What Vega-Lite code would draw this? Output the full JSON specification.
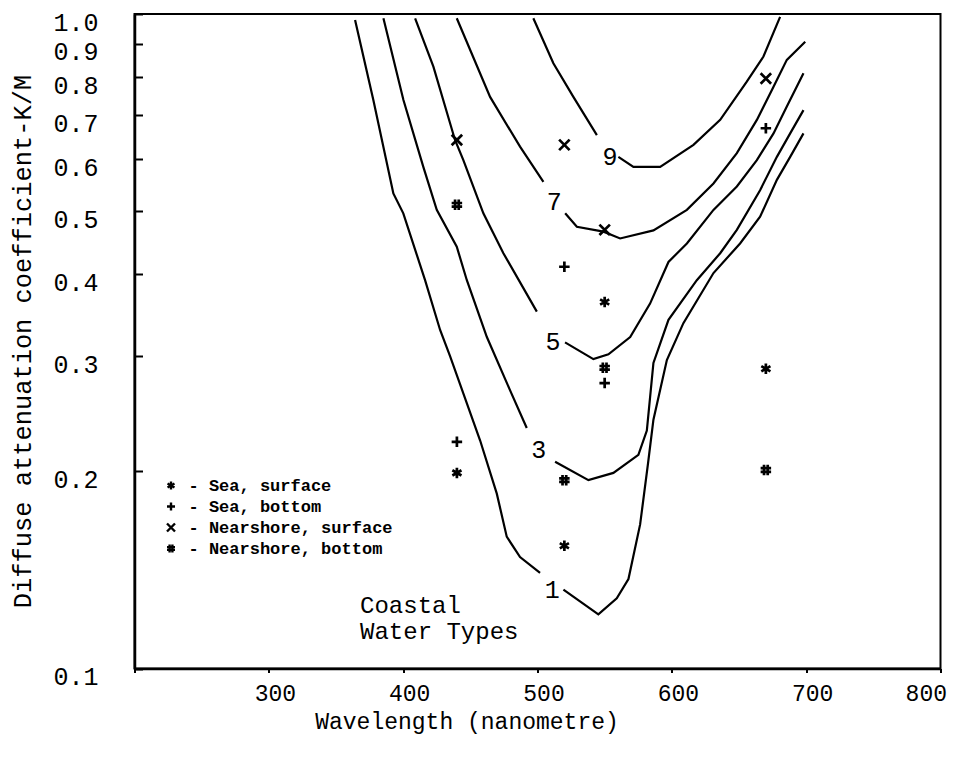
{
  "$schema": "https://vega.github.io/schema/vega-lite/v6.json",
  "width": 806,
  "height": 654.5,
  "autosize": "none",
  "padding": {"left": 134.5, "top": 14, "right": 26.5, "bottom": 88.5},
  "background": "white",
  "config": {
    "view": {"stroke": "black", "strokeWidth": 2},
    "font": "Liberation Mono"
  },
  "datasets": {
    "curves": [
      {"seg": "9L", "wl": 496.9, "k": 0.985}, {"seg": "9L", "wl": 511.8, "k": 0.841}, {"seg": "9L", "wl": 526.7, "k": 0.747}, {"seg": "9L", "wl": 544.2, "k": 0.653},
      {"seg": "9R", "wl": 560.2, "k": 0.605}, {"seg": "9R", "wl": 571.4, "k": 0.584}, {"seg": "9R", "wl": 591.3, "k": 0.584}, {"seg": "9R", "wl": 616.1, "k": 0.631}, {"seg": "9R", "wl": 636.0, "k": 0.689}, {"seg": "9R", "wl": 655.8, "k": 0.788}, {"seg": "9R", "wl": 668.2, "k": 0.861}, {"seg": "9R", "wl": 680.6, "k": 0.99},
      {"seg": "7L", "wl": 439.9, "k": 0.985}, {"seg": "7L", "wl": 464.7, "k": 0.747}, {"seg": "7L", "wl": 487.0, "k": 0.627}, {"seg": "7L", "wl": 504.4, "k": 0.554},
      {"seg": "7R", "wl": 520.6, "k": 0.496}, {"seg": "7R", "wl": 529.3, "k": 0.473}, {"seg": "7R", "wl": 549.1, "k": 0.465}, {"seg": "7R", "wl": 561.5, "k": 0.454}, {"seg": "7R", "wl": 586.3, "k": 0.467}, {"seg": "7R", "wl": 611.2, "k": 0.502}, {"seg": "7R", "wl": 631.0, "k": 0.551}, {"seg": "7R", "wl": 648.4, "k": 0.613}, {"seg": "7R", "wl": 663.3, "k": 0.689}, {"seg": "7R", "wl": 675.7, "k": 0.774}, {"seg": "7R", "wl": 685.6, "k": 0.851}, {"seg": "7R", "wl": 699.3, "k": 0.907},
      {"seg": "5L", "wl": 408.9, "k": 0.985}, {"seg": "5L", "wl": 422.5, "k": 0.831}, {"seg": "5L", "wl": 438.6, "k": 0.642}, {"seg": "5L", "wl": 444.8, "k": 0.598}, {"seg": "5L", "wl": 459.7, "k": 0.496}, {"seg": "5L", "wl": 474.6, "k": 0.431}, {"seg": "5L", "wl": 499.5, "k": 0.351},
      {"seg": "5R", "wl": 520.5, "k": 0.315}, {"seg": "5R", "wl": 541.6, "k": 0.297}, {"seg": "5R", "wl": 552.8, "k": 0.302}, {"seg": "5R", "wl": 569.0, "k": 0.321}, {"seg": "5R", "wl": 583.8, "k": 0.361}, {"seg": "5R", "wl": 597.5, "k": 0.418}, {"seg": "5R", "wl": 611.2, "k": 0.446}, {"seg": "5R", "wl": 631.0, "k": 0.502}, {"seg": "5R", "wl": 648.4, "k": 0.545}, {"seg": "5R", "wl": 663.3, "k": 0.598}, {"seg": "5R", "wl": 675.7, "k": 0.657}, {"seg": "5R", "wl": 685.6, "k": 0.722}, {"seg": "5R", "wl": 698.0, "k": 0.812},
      {"seg": "3L", "wl": 385.3, "k": 0.985}, {"seg": "3L", "wl": 400.2, "k": 0.739}, {"seg": "3L", "wl": 415.0, "k": 0.584}, {"seg": "3L", "wl": 425.0, "k": 0.502}, {"seg": "3L", "wl": 439.9, "k": 0.441}, {"seg": "3L", "wl": 447.4, "k": 0.392}, {"seg": "3L", "wl": 462.3, "k": 0.321}, {"seg": "3L", "wl": 479.6, "k": 0.266}, {"seg": "3L", "wl": 492.0, "k": 0.233},
      {"seg": "3R", "wl": 513.1, "k": 0.207}, {"seg": "3R", "wl": 537.9, "k": 0.194}, {"seg": "3R", "wl": 556.5, "k": 0.199}, {"seg": "3R", "wl": 575.1, "k": 0.212}, {"seg": "3R", "wl": 581.4, "k": 0.231}, {"seg": "3R", "wl": 586.3, "k": 0.293}, {"seg": "3R", "wl": 597.5, "k": 0.341}, {"seg": "3R", "wl": 618.6, "k": 0.392}, {"seg": "3R", "wl": 636.0, "k": 0.431}, {"seg": "3R", "wl": 648.4, "k": 0.468}, {"seg": "3R", "wl": 665.7, "k": 0.538}, {"seg": "3R", "wl": 678.2, "k": 0.605}, {"seg": "3R", "wl": 688.1, "k": 0.657}, {"seg": "3R", "wl": 698.0, "k": 0.713},
      {"seg": "1L", "wl": 364.2, "k": 0.979}, {"seg": "1L", "wl": 377.8, "k": 0.739}, {"seg": "1L", "wl": 392.7, "k": 0.532}, {"seg": "1L", "wl": 400.1, "k": 0.496}, {"seg": "1L", "wl": 416.3, "k": 0.392}, {"seg": "1L", "wl": 427.5, "k": 0.329}, {"seg": "1L", "wl": 434.9, "k": 0.300}, {"seg": "1L", "wl": 457.3, "k": 0.223}, {"seg": "1L", "wl": 469.7, "k": 0.185}, {"seg": "1L", "wl": 477.1, "k": 0.159}, {"seg": "1L", "wl": 487.0, "k": 0.148}, {"seg": "1L", "wl": 501.9, "k": 0.140},
      {"seg": "1R", "wl": 519.3, "k": 0.132}, {"seg": "1R", "wl": 545.3, "k": 0.121}, {"seg": "1R", "wl": 559.0, "k": 0.128}, {"seg": "1R", "wl": 567.7, "k": 0.137}, {"seg": "1R", "wl": 576.4, "k": 0.166}, {"seg": "1R", "wl": 582.3, "k": 0.206}, {"seg": "1R", "wl": 586.3, "k": 0.240}, {"seg": "1R", "wl": 596.3, "k": 0.296}, {"seg": "1R", "wl": 608.6, "k": 0.337}, {"seg": "1R", "wl": 631.0, "k": 0.402}, {"seg": "1R", "wl": 650.8, "k": 0.446}, {"seg": "1R", "wl": 665.7, "k": 0.490}, {"seg": "1R", "wl": 678.2, "k": 0.558}, {"seg": "1R", "wl": 688.1, "k": 0.605}, {"seg": "1R", "wl": 698.0, "k": 0.657}
    ],
    "samples": [
      {"site": "Sea, surface", "wl": 440, "k": 0.199},
      {"site": "Sea, surface", "wl": 520, "k": 0.154},
      {"site": "Sea, surface", "wl": 550, "k": 0.363},
      {"site": "Sea, surface", "wl": 670, "k": 0.287},
      {"site": "Sea, bottom", "wl": 440, "k": 0.222},
      {"site": "Sea, bottom", "wl": 520, "k": 0.411},
      {"site": "Sea, bottom", "wl": 550, "k": 0.273},
      {"site": "Sea, bottom", "wl": 670, "k": 0.669},
      {"site": "Nearshore, surface", "wl": 440, "k": 0.642},
      {"site": "Nearshore, surface", "wl": 520, "k": 0.631},
      {"site": "Nearshore, surface", "wl": 550, "k": 0.468},
      {"site": "Nearshore, surface", "wl": 670, "k": 0.797},
      {"site": "Nearshore, bottom", "wl": 440, "k": 0.511},
      {"site": "Nearshore, bottom", "wl": 520, "k": 0.194},
      {"site": "Nearshore, bottom", "wl": 550, "k": 0.288},
      {"site": "Nearshore, bottom", "wl": 670, "k": 0.201}
    ],
    "labels": [
      {"t": "9", "wl": 554.0, "k": 0.605},
      {"t": "7", "wl": 512.5, "k": 0.516},
      {"t": "5", "wl": 511.6, "k": 0.315},
      {"t": "3", "wl": 501.0, "k": 0.216},
      {"t": "1", "wl": 511.0, "k": 0.132}
    ],
    "note": [
      {"t": "Coastal\nWater Types", "wl": 367.9, "k": 0.1214}
    ]
  },
  "encoding": {
    "x": {
      "field": "wl", "type": "quantitative",
      "scale": {"domain": [200, 800], "nice": false, "zero": false},
      "axis": {
        "title": "Wavelength (nanometre)",
        "values": [200, 300, 400, 500, 600, 700, 800],
        "format": "d",
        "labelExpr": "datum.value == 200 ? '' : datum.label",
        "grid": false,
        "domainColor": "black", "domainWidth": 2.5,
        "tickColor": "black", "tickWidth": 2, "tickSize": 4,
        "labelFont": "Liberation Mono", "labelFontSize": 23, "labelColor": "black",
        "labelPadding": 10, "labelOffset": 6,
        "titleFont": "Liberation Mono", "titleFontSize": 23, "titleFontWeight": "normal", "titleColor": "black",
        "titleX": 332, "titleY": 53, "titleBaseline": "middle", "titleAlign": "center"
      }
    },
    "y": {
      "field": "k", "type": "quantitative",
      "scale": {"type": "log", "domain": [0.1, 1], "nice": false},
      "axis": {
        "title": "Diffuse attenuation coefficient-K/M",
        "values": [0.1, 0.2, 0.3, 0.4, 0.5, 0.6, 0.7, 0.8, 0.9, 1.0],
        "format": ".1f",
        "grid": false,
        "domainColor": "black", "domainWidth": 2.5,
        "tickColor": "black", "tickWidth": 2, "tickSize": -8,
        "labelFont": "Liberation Mono", "labelFontSize": 25, "labelColor": "black",
        "labelPadding": 44.5, "labelOffset": 8, "labelBaseline": "middle",
        "titleFont": "Liberation Mono", "titleFontSize": 25.4, "titleFontWeight": "normal", "titleColor": "black",
        "titleX": -112, "titleY": 327, "titleAngle": -90, "titleBaseline": "middle", "titleAlign": "center"
      }
    }
  },
  "layer": [
    {
      "data": {"name": "curves"},
      "mark": {"type": "line", "stroke": "black", "strokeWidth": 2.2},
      "encoding": {"detail": {"field": "seg"}}
    },
    {
      "data": {"name": "samples"},
      "mark": {"type": "point", "filled": false, "color": "black", "strokeWidth": 2.7, "size": 110, "opacity": 1},
      "encoding": {
        "shape": {
          "field": "site", "type": "nominal",
          "scale": {
            "domain": ["Sea, surface", "Sea, bottom", "Nearshore, surface", "Nearshore, bottom"],
            "range": [
              "M0,-1L0,1M-0.87,-0.5L0.87,0.5M-0.87,0.5L0.87,-0.5",
              "M0,-1L0,1M-1,0L1,0",
              "M-1,-1L1,1M-1,1L1,-1",
              "M-0.35,-1L-0.35,1M0.35,-1L0.35,1M-1,-0.35L1,-0.35M-1,0.35L1,0.35"
            ]
          },
          "legend": {
            "orient": "none", "legendX": 28, "legendY": 463,
            "title": null,
            "labelExpr": "'- ' + datum.label",
            "labelFont": "Liberation Mono", "labelFontWeight": "bold", "labelFontSize": 17, "labelColor": "black",
            "labelOffset": 9, "labelLimit": 0,
            "symbolSize": 64, "symbolStrokeColor": "black", "symbolStrokeWidth": 2.4,
            "rowPadding": 2
          }
        }
      }
    },
    {
      "data": {"name": "labels"},
      "mark": {"type": "text", "font": "Liberation Mono", "fontSize": 25, "color": "black", "align": "center", "baseline": "middle"},
      "encoding": {"text": {"field": "t"}}
    },
    {
      "data": {"name": "note"},
      "mark": {"type": "text", "font": "Liberation Mono", "fontSize": 24, "color": "black", "align": "left", "baseline": "alphabetic", "lineBreak": "\n", "lineHeight": 26},
      "encoding": {"text": {"field": "t"}}
    }
  ]
}
